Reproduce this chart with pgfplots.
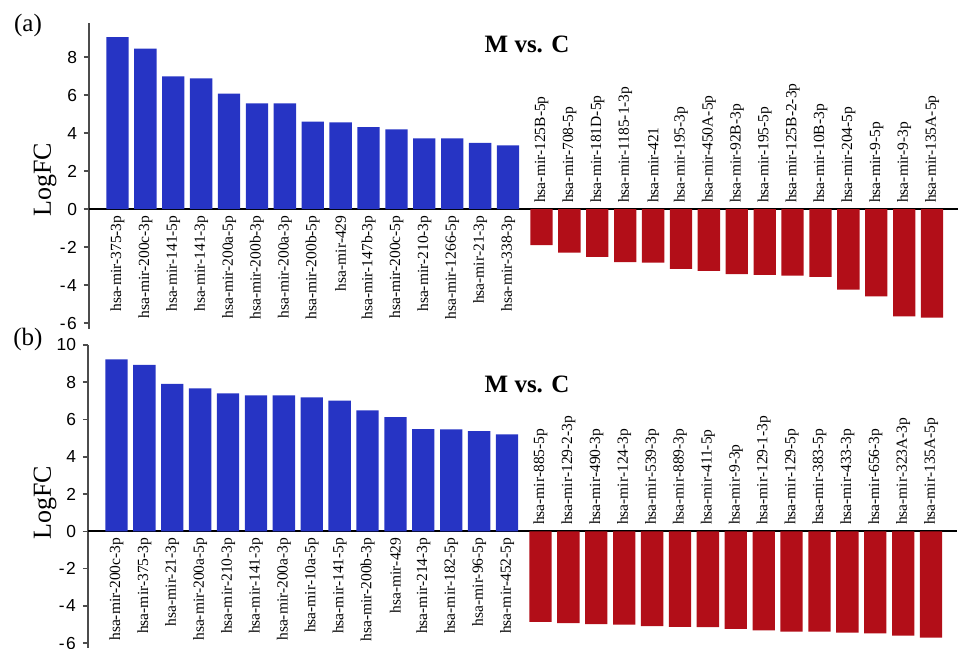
\documentclass[border=0pt]{standalone}
\usepackage{pgfplots}
\pgfplotsset{compat=1.18}
\usepackage{pgfplotstable}
\usepackage{fontspec}
\setmainfont{Liberation Serif}
\newfontfamily\arial{Liberation Sans}
\definecolor{barblue}{RGB}{38,52,196}
\definecolor{barred}{RGB}{178,14,24}

\pgfplotstableread{
x y z label
0 9.04 0 hsa-mir-375-3p
1 8.44 0 hsa-mir-200c-3p
2 6.98 0 hsa-mir-141-5p
3 6.88 0 hsa-mir-141-3p
4 6.07 0 hsa-mir-200a-5p
5 5.56 0 hsa-mir-200b-3p
6 5.56 0 hsa-mir-200a-3p
7 4.61 0 hsa-mir-200b-5p
8 4.56 0 hsa-mir-429
9 4.32 0 hsa-mir-147b-3p
10 4.19 0 hsa-mir-200c-5p
11 3.72 0 hsa-mir-210-3p
12 3.72 0 hsa-mir-1266-5p
13 3.49 0 hsa-mir-21-3p
14 3.35 0 hsa-mir-338-3p
}\topup

\pgfplotstableread{
x y z label
15.2 -1.89 0 hsa-mir-125B-5p
16.2 -2.28 0 hsa-mir-708-5p
17.2 -2.51 0 hsa-mir-181D-5p
18.2 -2.79 0 hsa-mir-1185-1-3p
19.2 -2.81 0 hsa-mir-421
20.2 -3.14 0 hsa-mir-195-3p
21.2 -3.25 0 hsa-mir-450A-5p
22.2 -3.42 0 hsa-mir-92B-3p
23.2 -3.46 0 hsa-mir-195-5p
24.2 -3.49 0 hsa-mir-125B-2-3p
25.2 -3.56 0 hsa-mir-10B-3p
26.2 -4.23 0 hsa-mir-204-5p
27.2 -4.58 0 hsa-mir-9-5p
28.2 -5.63 0 hsa-mir-9-3p
29.2 -5.70 0 hsa-mir-135A-5p
}\topdown

\pgfplotstableread{
x y z label
0 9.23 0 hsa-mir-200c-3p
1 8.93 0 hsa-mir-375-3p
2 7.92 0 hsa-mir-21-3p
3 7.67 0 hsa-mir-200a-5p
4 7.41 0 hsa-mir-210-3p
5 7.30 0 hsa-mir-141-3p
6 7.30 0 hsa-mir-200a-3p
7 7.19 0 hsa-mir-10a-5p
8 7.01 0 hsa-mir-141-5p
9 6.49 0 hsa-mir-200b-3p
10 6.13 0 hsa-mir-429
11 5.49 0 hsa-mir-214-3p
12 5.47 0 hsa-mir-182-5p
13 5.38 0 hsa-mir-96-5p
14 5.21 0 hsa-mir-452-5p
}\botup

\pgfplotstableread{
x y z label
15.2 -4.86 0 hsa-mir-885-5p
16.2 -4.93 0 hsa-mir-129-2-3p
17.2 -4.98 0 hsa-mir-490-3p
18.2 -5.00 0 hsa-mir-124-3p
19.2 -5.09 0 hsa-mir-539-3p
20.2 -5.13 0 hsa-mir-889-3p
21.2 -5.14 0 hsa-mir-411-5p
22.2 -5.23 0 hsa-mir-9-3p
23.2 -5.32 0 hsa-mir-129-1-3p
24.2 -5.38 0 hsa-mir-129-5p
25.2 -5.38 0 hsa-mir-383-5p
26.2 -5.43 0 hsa-mir-433-3p
27.2 -5.48 0 hsa-mir-656-3p
28.2 -5.59 0 hsa-mir-323A-3p
29.2 -5.70 0 hsa-mir-135A-5p
}\botdown

\pgfplotsset{
  mirstyle/.style={
    scale only axis, width=434.5pt,
    xmin=-1.02, xmax=30.13,
    axis x line=none, axis y line=left,
    axis line style={-},
    y axis line style={draw=black!70, line width=0.8pt},
    xtick=\empty,
    tick align=outside, major tick length=2.5pt,
    ytick style={draw=black!70, line width=0.8pt},
    yticklabel style={font=\arial\fontsize{8.7}{10}\selectfont},
    extra y ticks={0}, extra y tick labels={},
    extra y tick style={grid=major, major grid style={black, line width=1.1pt}},
    clip=false,
  },
  barp/.style={ybar, bar width=0.8, bar shift=0pt, draw=none, fill=#1},
  lblbase/.style={only marks, mark=text, text mark={},
    nodes near coords, point meta=explicit symbolic},
  lblpos/.style={lblbase, nodes near coords style={rotate=90, anchor=east,
    inner xsep=3pt, inner ysep=0pt, font=\fontsize{7.75}{9}\selectfont, text=black}},
  lblneg/.style={lblbase, nodes near coords style={rotate=90, anchor=west,
    inner xsep=3pt, inner ysep=0pt, font=\fontsize{7.75}{9}\selectfont, text=black}},
}

\begin{document}
\begin{tikzpicture}
\useasboundingbox (0,0) rectangle (479pt,324pt);

% (a)
\begin{axis}[mirstyle, at={(44.5pt,159.5pt)}, anchor=south west,
  height=153pt, ymin=-6.3, ymax=9.79,
  ytick={-6,-4,-2,0,2,4,6,8},
  yticklabels={{-\kern0.8pt6},{-\kern0.8pt4},{-\kern0.8pt2},0,2,4,6,8}]
  \addplot[barp=barblue] table[x=x,y=y] {\topup};
  \addplot[barp=barred] table[x=x,y=y] {\topdown};
  \addplot[lblpos] table[x=x,y=z,meta=label] {\topup};
  \addplot[lblneg] table[x=x,y=z,meta=label] {\topdown};
\end{axis}

% (b)
\begin{axis}[mirstyle, at={(44pt,0pt)}, anchor=south west,
  height=151.5pt, ymin=-6.26, ymax=10,
  ytick={-6,-4,-2,0,2,4,6,8,10},
  yticklabels={{-\kern0.8pt6},{-\kern0.8pt4},{-\kern0.8pt2},0,2,4,6,8,10}]
  \addplot[barp=barblue] table[x=x,y=y] {\botup};
  \addplot[barp=barred] table[x=x,y=y] {\botdown};
  \addplot[lblpos] table[x=x,y=z,meta=label] {\botup};
  \addplot[lblneg] table[x=x,y=z,meta=label] {\botdown};
\end{axis}

\node[font=\fontsize{12.5}{14}\selectfont] at (14pt,311.5pt) {(a)};
\node[font=\fontsize{12.5}{14}\selectfont] at (14pt,154.5pt) {(b)};
\node[font=\bfseries\fontsize{12.5}{14}\selectfont] at (263.5pt,302pt) {M vs. C};
\node[font=\bfseries\fontsize{12.5}{14}\selectfont] at (263.5pt,132pt) {M vs. C};
\node[rotate=90, font=\fontsize{13}{15}\selectfont] at (22.5pt,234pt) {LogFC};
\node[rotate=90, font=\fontsize{13}{15}\selectfont] at (22.5pt,72.5pt) {LogFC};
\end{tikzpicture}
\end{document}
